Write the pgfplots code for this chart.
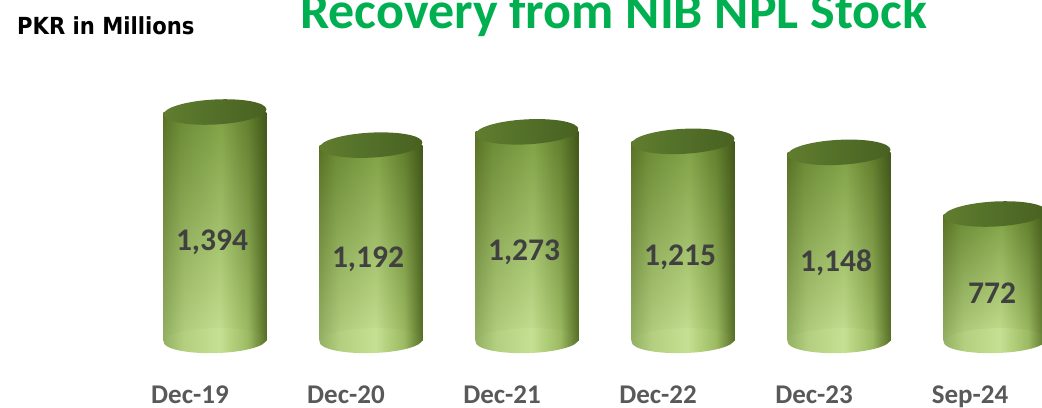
\documentclass[border=0pt]{standalone}
\usepackage{pgfplots}
\pgfplotsset{compat=1.18}
\usepackage{fontspec}
\setmainfont{Carlito}
\newfontfamily\pkrfont{DejaVu Sans Condensed}
\usetikzlibrary{shapes.geometric,fadings}
\tikzfading[name=glowfade, top color=transparent!100, middle color=transparent!70, bottom color=transparent!0]
\definecolor{titlegreen}{HTML}{00B050}
\definecolor{ticklab}{HTML}{595959}
\definecolor{vallab}{HTML}{404040}
\definecolor{bodyA}{HTML}{587224}
\definecolor{bodyB}{HTML}{6A8934}
\definecolor{bodyC}{HTML}{80A145}
\definecolor{bodyD}{HTML}{617E2D}
\definecolor{bodyE}{HTML}{42571A}
\definecolor{lightA}{HTML}{94B062}
\definecolor{lightB}{HTML}{B3CF7F}
\definecolor{lightC}{HTML}{C5E092}
\definecolor{lightD}{HTML}{9CBA62}
\definecolor{lightE}{HTML}{566F26}
\definecolor{topA}{HTML}{607D2F}
\definecolor{topB}{HTML}{55722A}
\definecolor{topC}{HTML}{486121}
\pgfdeclarehorizontalshading{cylbody}{100bp}{color(0bp)=(bodyA); color(25bp)=(bodyA); color(33bp)=(bodyB); color(53bp)=(bodyC); color(66bp)=(bodyD); color(75bp)=(bodyE); color(100bp)=(bodyE)}
\pgfdeclarehorizontalshading{cyllight}{100bp}{color(0bp)=(lightA); color(25bp)=(lightA); color(35bp)=(lightB); color(52bp)=(lightC); color(66bp)=(lightD); color(75bp)=(lightE); color(100bp)=(lightE)}
\pgfdeclarehorizontalshading{cyltop}{100bp}{color(0bp)=(topA); color(25bp)=(topA); color(45bp)=(topB); color(75bp)=(topC); color(100bp)=(topC)}
\pgfplotsset{
  body/.style={ybar, bar width=103bp, bar shift=0pt, draw=none, shading=cylbody},
  glow/.style={ybar, bar width=103bp, bar shift=0pt, draw=none, shading=cyllight, path fading=glowfade},
}
\begin{document}
\begin{tikzpicture}
\begin{axis}[
  scale only axis, width=1042bp, height=408bp,
  xmin=-1.378, xmax=5.301, ymin=-411, ymax=2077,
  axis line style={draw=none}, tick style={draw=none},
  ytick=\empty,
  xtick={0,1,2,3,4,5},
  xticklabels={Dec-19,Dec-20,Dec-21,Dec-22,Dec-23,Sep-24},
  xticklabel style={anchor=base, yshift=5bp, xshift=-25bp, font=\bfseries\fontsize{27bp}{32bp}\selectfont, text=ticklab},
  clip=false,
]
% bodies, one plot per bar so each has its own shading
\addplot[body] coordinates {(0,1394)};
\addplot[glow] coordinates {(0,1394)};
\addplot[body] coordinates {(1,1192)};
\addplot[glow] coordinates {(1,1192)};
\addplot[body] coordinates {(2,1273)};
\addplot[glow] coordinates {(2,1273)};
\addplot[body] coordinates {(3,1215)};
\addplot[glow] coordinates {(3,1215)};
\addplot[body] coordinates {(4,1148)};
\addplot[glow] coordinates {(4,1148)};
\addplot[body] coordinates {(5,772)};
\addplot[glow] coordinates {(5,772)};
% bottom ellipses
\addplot[draw=none, mark=none, nodes near coords={},
  every node near coord/.append style={anchor=center, shape=ellipse, inner sep=0pt,
    minimum width=103bp, minimum height=25bp, rotate=1.5, shading=cyllight}]
  coordinates {(0,0) (1,0) (2,0) (3,0) (4,0) (5,0)};
% tops
\addplot[draw=none, mark=none, nodes near coords={},
  every node near coord/.append style={anchor=center, shape=ellipse, inner sep=0pt,
    minimum width=103bp, minimum height=25bp, rotate=3, shading=cyltop}]
  coordinates {(0,1394) (1,1192) (2,1273) (3,1215) (4,1148) (5,772)};
% value labels
\addplot[draw=none, mark=none, point meta=explicit symbolic,
  visualization depends on={rawy \as \rawy},
  nodes near coords,
  every node near coord/.append style={anchor=center, xshift=-3bp, yshift={-(0.082*\rawy+16)*1bp},
    font=\bfseries\fontsize{31.5bp}{37bp}\selectfont, text=vallab}]
  coordinates {(0,1394) [1,394] (1,1192) [1,192] (2,1273) [1,273] (3,1215) [1,215] (4,1148) [1,148] (5,772) [772]};
\end{axis}
\node[anchor=base west, inner sep=0pt, font=\bfseries\fontsize{52bp}{60bp}\selectfont, text=titlegreen] at (300bp,379bp) {Recovery from NIB NPL Stock};
\node[anchor=base west, inner sep=0pt, font=\pkrfont\bfseries\fontsize{23.5bp}{28bp}\selectfont] at (17bp,373bp) {PKR in Millions};
\pgfresetboundingbox
\useasboundingbox (0,0) rectangle (1042bp,408bp);
\end{tikzpicture}
\end{document}
